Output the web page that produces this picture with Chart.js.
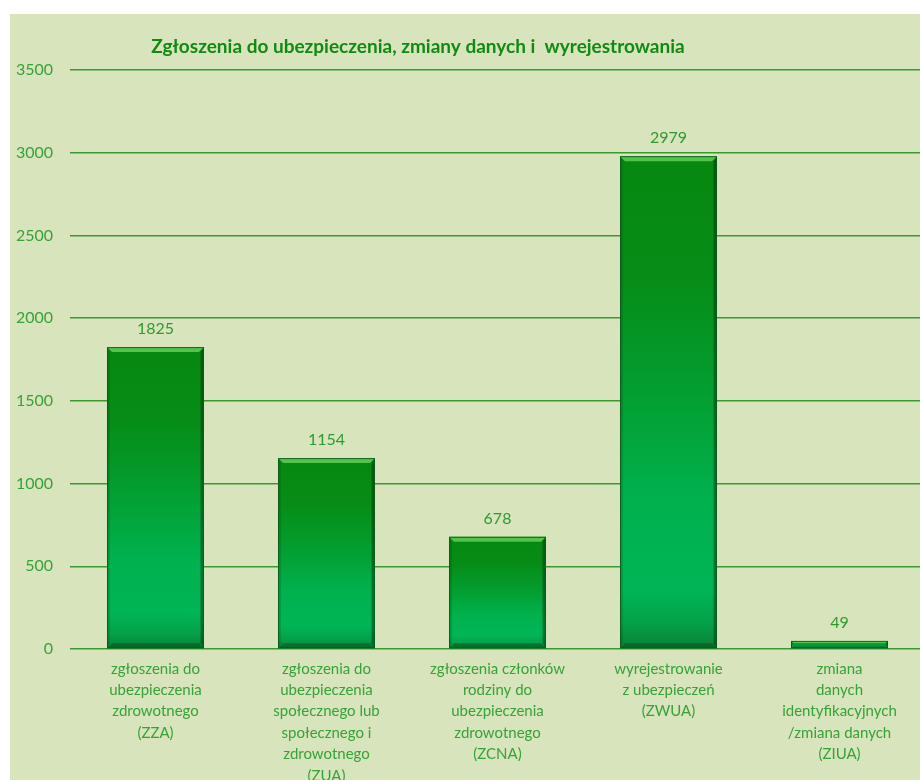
<!DOCTYPE html>
<html>
<head>
<meta charset="utf-8">
<script src="https://cdn.jsdelivr.net/npm/chart.js@4.4.1/dist/chart.umd.min.js"></script>
<style>
  html, body { margin: 0; padding: 0; background: #ffffff; overflow: hidden; width: 920px; height: 780px; }
  #wrap { position: absolute; left: 10px; top: 14px; width: 915px; height: 766px; background: #d8e4bc; }
  canvas { display: block; }
</style>
</head>
<body>
<div id="wrap"><canvas id="c" width="915" height="766"></canvas></div>
<script>
const titleText = 'Zgłoszenia do ubezpieczenia, zmiany danych i  wyrejestrowania';
const categories = [
  ['zgłoszenia do', 'ubezpieczenia', 'zdrowotnego', '(ZZA)'],
  ['zgłoszenia do', 'ubezpieczenia', 'społecznego lub', 'społecznego i', 'zdrowotnego', '(ZUA)'],
  ['zgłoszenia członków', 'rodziny do', 'ubezpieczenia', 'zdrowotnego', '(ZCNA)'],
  ['wyrejestrowanie', 'z ubezpieczeń', '(ZWUA)'],
  ['zmiana', 'danych', 'identyfikacyjnych', '/zmiana danych', '(ZIUA)']
];
const values = [1825, 1154, 678, 2979, 49];
const yMin = 0, yMax = 3500, yStep = 500;

const FONT = 'Lato, "Noto Sans", sans-serif';
Chart.defaults.font.family = FONT;
Chart.defaults.animation = false;

function barGradient(ctx) {
  const chart = ctx.chart;
  const ys = chart.scales.y;
  if (!ys || ctx.raw === undefined) return '#00a040';
  const top = ys.getPixelForValue(ctx.raw);
  const bot = ys.getPixelForValue(0);
  if (!isFinite(top) || !isFinite(bot) || bot - top < 1) return '#00a040';
  const g = chart.ctx.createLinearGradient(0, top, 0, bot);
  g.addColorStop(0.00, '#07880f');
  g.addColorStop(0.25, '#068d18');
  g.addColorStop(0.50, '#03a033');
  g.addColorStop(0.70, '#00b14e');
  g.addColorStop(0.88, '#00b556');
  g.addColorStop(0.95, '#04a048');
  g.addColorStop(1.00, '#0a8035');
  return g;
}

const bevelPlugin = {
  id: 'bevel',
  afterDatasetsDraw(chart) {
    const c = chart.ctx;
    chart.getDatasetMeta(0).data.forEach(el => {
      const p = el.getProps(['x', 'y', 'base', 'width'], true);
      const l = p.x - p.width / 2, r = p.x + p.width / 2, t = p.y, b = p.base;
      const h = b - t;
      const e = Math.min(5, h / 3);
      c.save();
      c.fillStyle = 'rgba(110,215,100,0.75)';
      c.beginPath(); c.moveTo(l, t); c.lineTo(r, t); c.lineTo(r - e, t + e); c.lineTo(l + e, t + e); c.closePath(); c.fill();
      c.fillStyle = 'rgba(0,45,10,0.45)';
      c.beginPath(); c.moveTo(r, t); c.lineTo(r, b); c.lineTo(r - e * 0.7, b - e); c.lineTo(r - e * 0.7, t + e); c.closePath(); c.fill();
      c.fillStyle = 'rgba(0,60,15,0.18)';
      c.beginPath(); c.moveTo(l, t); c.lineTo(l + e * 0.6, t + e); c.lineTo(l + e * 0.6, b - e); c.lineTo(l, b); c.closePath(); c.fill();
      c.fillStyle = 'rgba(0,55,15,0.35)';
      c.beginPath(); c.moveTo(l, b); c.lineTo(r, b); c.lineTo(r - e, b - e); c.lineTo(l + e, b - e); c.closePath(); c.fill();
      c.strokeStyle = 'rgba(10,90,25,0.9)';
      c.lineWidth = 1;
      c.strokeRect(l + 0.5, t + 0.5, p.width - 1, h - 1);
      c.restore();
    });
  }
};

const labelPlugin = {
  id: 'vals',
  afterDatasetsDraw(chart) {
    const c = chart.ctx;
    const ds = chart.data.datasets[0];
    c.save();
    c.font = '16px ' + FONT;
    c.fillStyle = '#2f9a2f';
    c.textAlign = 'center';
    c.textBaseline = 'middle';
    chart.getDatasetMeta(0).data.forEach((el, i) => {
      const p = el.getProps(['x', 'y'], true);
      c.fillText(String(ds.data[i]), p.x, p.y - 18);
    });
    c.restore();
  }
};

const titlePlugin = {
  id: 'ttl',
  afterDraw(chart) {
    const c = chart.ctx;
    c.save();
    c.font = 'bold 19px ' + FONT;
    c.fillStyle = '#128a12';
    c.textAlign = 'center';
    c.textBaseline = 'middle';
    c.fillText(titleText, 408, 33);
    c.restore();
  }
};

new Chart(document.getElementById('c'), {
  type: 'bar',
  data: {
    labels: categories,
    datasets: [{
      data: values,
      backgroundColor: barGradient,
      borderWidth: 0,
      categoryPercentage: 1.0,
      barPercentage: 0.567
    }]
  },
  options: {
    responsive: false,
    animation: false,
    layout: { padding: { top: 56, left: 0, right: 0, bottom: 0 } },
    plugins: { legend: { display: false }, tooltip: { enabled: false }, title: { display: false } },
    scales: {
      x: {
        grid: { display: false, drawTicks: false },
        border: { display: false },
        ticks: {
          color: '#37a237',
          font: { size: 15, lineHeight: 1.43 },
          padding: 9,
          maxRotation: 0,
          autoSkip: false
        },
        afterFit(s) { s.height = 131; }
      },
      y: {
        min: yMin, max: yMax,
        grid: { color: '#3a9a30', lineWidth: 1.4, drawTicks: false },
        border: { display: false },
        ticks: {
          stepSize: yStep,
          color: '#37a237',
          font: { size: 16 },
          padding: 17,
          callback: v => String(v)
        },
        afterFit(s) { s.width = 60; }
      }
    }
  },
  plugins: [bevelPlugin, labelPlugin, titlePlugin]
});
</script>
</body>
</html>
